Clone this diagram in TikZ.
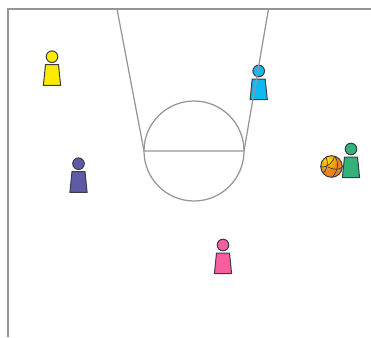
\documentclass[tikz,border=0pt]{standalone}
\definecolor{court}{RGB}{150,150,150}
\definecolor{pedge}{RGB}{60,60,70}
\definecolor{pyellow}{RGB}{255,235,0}
\definecolor{pblue}{RGB}{15,185,240}
\definecolor{ppurple}{RGB}{95,90,165}
\definecolor{pgreen}{RGB}{50,178,120}
\definecolor{ppink}{RGB}{245,95,160}
\definecolor{ballo}{RGB}{240,130,30}
\definecolor{bally}{RGB}{255,225,0}
\tikzset{x=1pt,y=-1pt,
 courtline/.style={draw=court,line width=1.25pt},
 ply/.style={draw=pedge,line width=1pt},
 seam/.style={draw=pedge,line width=0.7pt}}
\newcommand{\player}[3]{%
 \filldraw[ply,fill=#3] (#1,#2) circle (5.8);
 \filldraw[ply,fill=#3] (#1-6.5,#2+8) -- (#1+6.5,#2+8) -- (#1+8.6,#2+28.6) -- (#1-8.6,#2+28.6) -- cycle;}
\begin{document}
\begin{tikzpicture}
\useasboundingbox (0,0) rectangle (371,337);
\player{52}{56.7}{pyellow}
\player{258.7}{71}{pblue}
\player{78.5}{163.7}{ppurple}
\player{351}{149}{pgreen}
\player{223}{245}{ppink}
\begin{scope}
\clip (331.5,166.5) circle (10.8);
\fill[ballo] (320,155) rectangle (343,178);
\shade[inner color=bally,outer color=ballo] (327,160) circle (11);
\draw[seam] (321,167) .. controls (327,168) and (334,162) .. (335,155);
\draw[seam] (326,157) .. controls (329,162) and (327,172) .. (322,174);
\draw[seam] (328,167) .. controls (333,170) and (339,170) .. (343,167);
\draw[seam] (335,157) .. controls (340,163) and (337,174) .. (331,178);
\end{scope}
\draw[ply] (331.5,166.5) circle (10.8);
\draw[courtline] (8,337) -- (8,9) -- (371,9);
\draw[courtline] (117,9) -- (144,151) -- (244,151) -- (268.5,9);
\draw[courtline] (194,151) circle (50);
\end{tikzpicture}
\end{document}
